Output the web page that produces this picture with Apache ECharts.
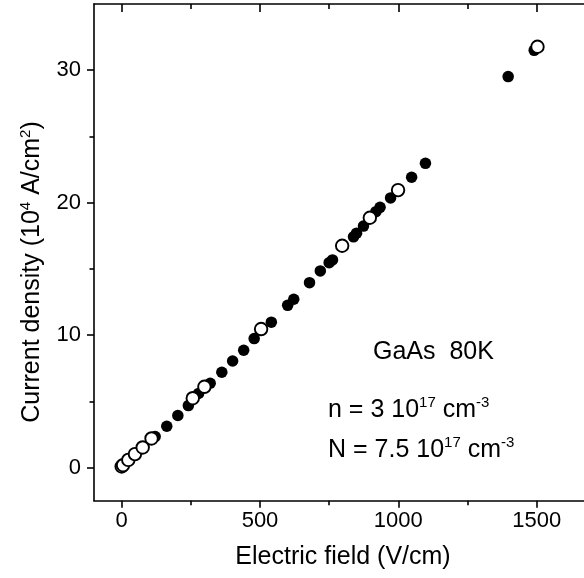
<!DOCTYPE html>
<html>
<head>
<meta charset="utf-8">
<script src="https://cdn.jsdelivr.net/npm/echarts@6.0.0/dist/echarts.min.js"></script>
<style>
  html, body { margin: 0; padding: 0; background: #fff; }
  #chart { width: 584px; height: 578px; }
</style>
</head>
<body>
<div id="chart"></div>
<script>
// filled symbols: electric field (V/cm) and current density (10^4 A/cm^2)
const filledE = [121, 163, 203, 241, 278, 320, 362, 401, 441, 479, 541, 600, 622, 679, 718, 750, 762, 838, 849, 874, 919, 934, 972, 1048, 1098, 1397, 1491]
const filledJ = [2.34, 3.12, 3.93, 4.68, 5.6, 6.37, 7.2, 8.05, 8.86, 9.74, 10.98, 12.25, 12.71, 13.96, 14.85, 15.47, 15.68, 17.42, 17.7, 18.23, 19.32, 19.65, 20.36, 21.92, 22.97, 29.52, 31.5]

// open symbols
const openE = [0, 5, 24, 48, 76, 108, 257, 299, 504, 797, 897, 999, 1503]
const openJ = [0.08, 0.18, 0.58, 1.02, 1.52, 2.2, 5.24, 6.1, 10.46, 16.75, 18.86, 20.95, 31.77]

const xMajor = [0, 500, 1000, 1500]
const xMinor = [250, 750, 1250]
const yMajor = [0, 10, 20, 30]
const yMinor = [5, 15, 25]

const FONT = 'Liberation Sans, Arial, sans-serif'
const lineStyle = { color: '#000', width: 1.6 }

const chart = echarts.init(document.getElementById('chart'), null, { renderer: 'canvas' })

const xBase = { type: 'value', gridIndex: 0, min: -100, max: 1700, splitLine: { show: false } }
const yBase = { type: 'value', gridIndex: 0, min: -2.5, max: 35, splitLine: { show: false } }

const option = {
  animation: false,
  backgroundColor: '#fff',
  grid: { left: 94, top: 4, width: 498, height: 496.7, containLabel: false, outerBoundsMode: 'none' },
  xAxis: [
    {
      ...xBase,
      position: 'bottom',
      axisLine: { onZero: false, lineStyle },
      axisTick: { inside: false, length: 7, lineStyle, customValues: xMajor },
      axisLabel: {
        customValues: xMajor,
        margin: 9,
        color: '#000',
        fontSize: 22,
        fontFamily: FONT,
        formatter: (v) => String(v),
      },
      name: 'Electric field (V/cm)',
      nameLocation: 'middle',
      nameGap: 44,
      nameTextStyle: { color: '#000', fontSize: 25, fontFamily: FONT },
    },
    {
      ...xBase,
      position: 'bottom',
      axisLine: { show: false, onZero: false },
      axisTick: { inside: false, length: 4.5, lineStyle, customValues: xMinor },
      axisLabel: { show: false },
    },
    {
      ...xBase,
      position: 'top',
      axisLine: { onZero: false, lineStyle },
      axisTick: { inside: true, length: 8, lineStyle, customValues: xMajor },
      axisLabel: { show: false },
    },
    {
      ...xBase,
      position: 'top',
      axisLine: { show: false, onZero: false },
      axisTick: { inside: true, length: 5, lineStyle, customValues: xMinor },
      axisLabel: { show: false },
    },
  ],
  yAxis: [
    {
      ...yBase,
      position: 'left',
      axisLine: { onZero: false, lineStyle },
      axisTick: { inside: false, length: 7, lineStyle, customValues: yMajor },
      axisLabel: { customValues: yMajor, margin: 13, color: '#000', fontSize: 22, fontFamily: FONT },
    },
    {
      ...yBase,
      position: 'left',
      axisLine: { show: false, onZero: false },
      axisTick: { inside: false, length: 4.5, lineStyle, customValues: yMinor },
      axisLabel: { show: false },
    },
    {
      ...yBase,
      position: 'right',
      axisLine: { onZero: false, lineStyle },
      axisTick: { inside: true, length: 8, lineStyle, customValues: yMajor },
      axisLabel: { show: false },
    },
    {
      ...yBase,
      position: 'right',
      axisLine: { show: false, onZero: false },
      axisTick: { inside: true, length: 5, lineStyle, customValues: yMinor },
      axisLabel: { show: false },
    },
  ],
  series: [
    {
      type: 'scatter',
      xAxisIndex: 0,
      yAxisIndex: 0,
      symbol: 'circle',
      symbolSize: 11.5,
      itemStyle: { color: '#000', opacity: 1 },
      emphasis: { disabled: true },
      data: filledE.map((e, i) => [e, filledJ[i]]),
    },
    {
      type: 'scatter',
      xAxisIndex: 0,
      yAxisIndex: 0,
      symbol: 'circle',
      symbolSize: 12.5,
      itemStyle: { color: '#fff', borderColor: '#000', borderWidth: 1.9, opacity: 1 },
      emphasis: { disabled: true },
      data: openE.map((e, i) => [e, openJ[i]]),
    },
  ],
  graphic: [
    {
      type: 'text',
      x: 32,
      y: 272,
      rotation: Math.PI / 2,
      style: {
        text: 'Current density (10{s|4} A/cm{s|2})',
        fontSize: 25,
        fontFamily: FONT,
        fill: '#000',
        align: 'center',
        verticalAlign: 'middle',
        rich: {
          s: { fontSize: 15, fontFamily: FONT, fill: '#000', verticalAlign: 'top', lineHeight: 28 },
        },
      },
    },
    {
      type: 'text',
      x: 373,
      y: 352,
      style: { text: 'GaAs  80K', fontSize: 25, fontFamily: FONT, fill: '#000', verticalAlign: 'middle' },
    },
    {
      type: 'text',
      x: 328,
      y: 410,
      style: {
        text: 'n = 3 10{s|17} cm{s|-3}',
        fontSize: 25,
        fontFamily: FONT,
        fill: '#000',
        verticalAlign: 'middle',
        rich: {
          s: { fontSize: 15, fontFamily: FONT, fill: '#000', verticalAlign: 'top', lineHeight: 30 },
        },
      },
    },
    {
      type: 'text',
      x: 328,
      y: 450,
      style: {
        text: 'N = 7.5 10{s|17} cm{s|-3}',
        fontSize: 25,
        fontFamily: FONT,
        fill: '#000',
        verticalAlign: 'middle',
        rich: {
          s: { fontSize: 15, fontFamily: FONT, fill: '#000', verticalAlign: 'top', lineHeight: 30 },
        },
      },
    },
  ],
}

chart.setOption(option)
</script>
</body>
</html>
